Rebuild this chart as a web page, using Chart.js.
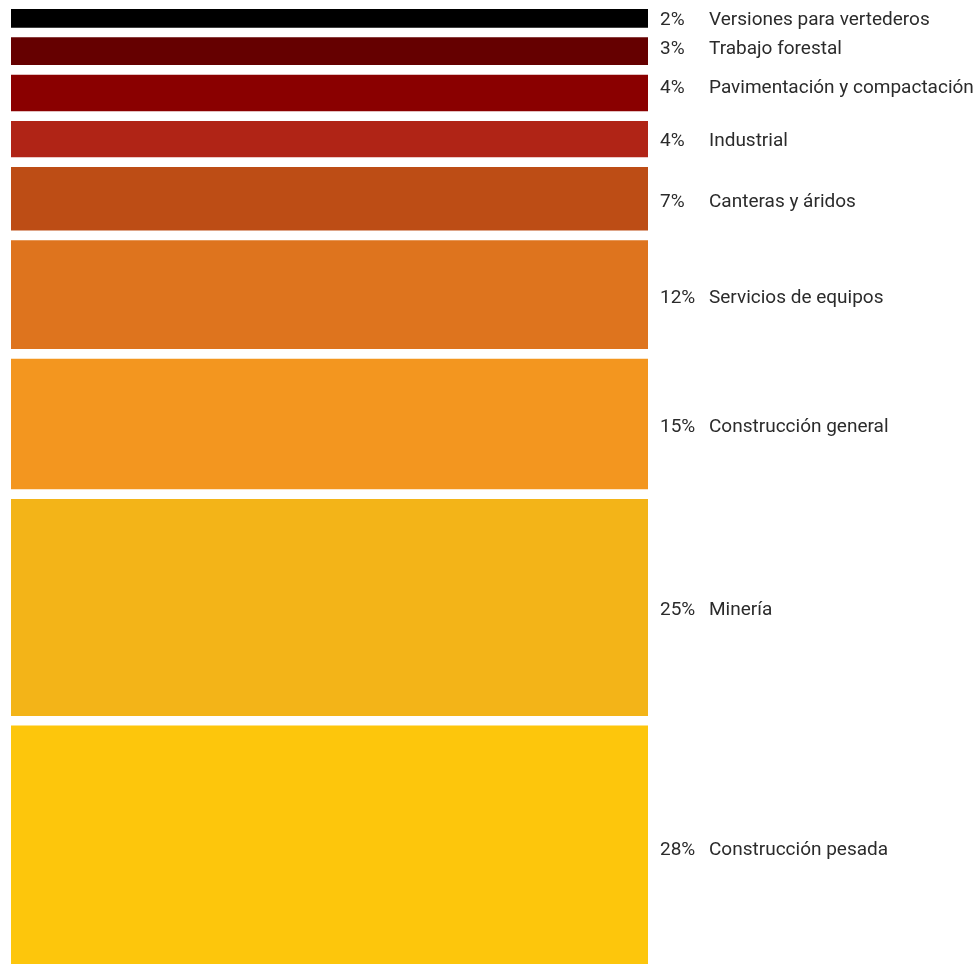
<!DOCTYPE html>
<html>
<head>
<meta charset="utf-8">
<script src="https://cdn.jsdelivr.net/npm/chart.js@4/dist/chart.umd.min.js"></script>
<style>
    html, body { margin: 0; padding: 0; background: #fff; }
    #wrap { width: 978px; height: 964px; position: relative; }
</style>
</head>
<body>
<div id="wrap"><canvas id="myChart"></canvas></div>
<script>
// Sectores, de arriba hacia abajo
const sectors = [
    'Versiones para vertederos',
    'Trabajo forestal',
    'Pavimentación y compactación',
    'Industrial',
    'Canteras y áridos',
    'Servicios de equipos',
    'Construcción general',
    'Minería',
    'Construcción pesada'
];
// altura de cada franja y el porcentaje impreso
const shares = [2.1, 3.1, 4.1, 4.1, 7.2, 12.4, 14.9, 24.8, 27.3];
const pctLabels = ['2%', '3%', '4%', '4%', '7%', '12%', '15%', '25%', '28%'];
const colors = ['#000000', '#650000', '#8a0000', '#b02416', '#bd4d15', '#de741e', '#f3961f', '#f3b418', '#fdc60c'];

const gap = 1.19; // espacio blanco entre franjas, en unidades del eje

// cada franja es una barra flotante [inicio, fin]
let acc = 0;
const ranges = shares.map(v => {
    const r = [acc, acc + v];
    acc += v + gap;
    return r;
});
const yMax = acc - gap;

// pequeños ajustes verticales de las etiquetas (px)
const nudge = [0, -3.5, -6.5, 0, 1.5, 2, 1, 1, 3.5];

const sideLabels = {
    id: 'sideLabels',
    afterDatasetsDraw(chart) {
        const ctx = chart.ctx;
        const y = chart.scales.y;
        ctx.save();
        ctx.font = '19px Roboto';
        ctx.fillStyle = '#2b2b2b';
        ctx.textBaseline = 'alphabetic';
        ctx.textAlign = 'left';
        ranges.forEach((r, i) => {
            const cy = (y.getPixelForValue(r[0]) + y.getPixelForValue(r[1])) / 2 + nudge[i];
            const base = cy + 6.75;
            ctx.fillText(pctLabels[i], 660, base);
            ctx.fillText(sectors[i], 709, base);
        });
        ctx.restore();
    }
};

new Chart(document.getElementById('myChart'), {
    type: 'bar',
    data: {
        labels: [''],
        datasets: ranges.map((r, i) => ({
            label: sectors[i],
            data: [r],
            backgroundColor: colors[i],
            borderWidth: 0
        }))
    },
    options: {
        responsive: true,
        maintainAspectRatio: false,
        animation: false,
        layout: { padding: { left: 11, right: 330, top: 9, bottom: 0 } },
        datasets: { bar: { grouped: false, barPercentage: 1, categoryPercentage: 1 } },
        scales: {
            x: { display: false },
            y: { display: false, reverse: true, min: 0, max: yMax }
        },
        plugins: {
            legend: { display: false },
            tooltip: { enabled: false }
        }
    },
    plugins: [sideLabels]
});
</script>
</body>
</html>
